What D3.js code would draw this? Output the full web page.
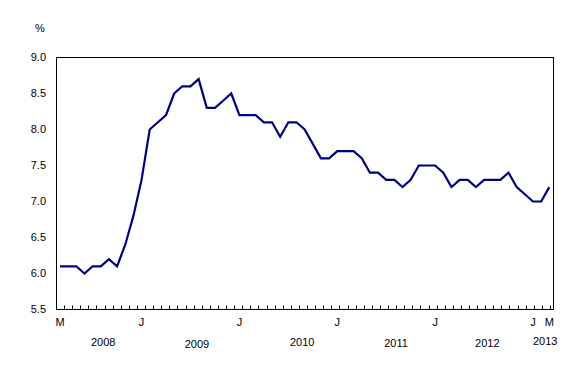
<!DOCTYPE html>
<html>
<head>
<meta charset="utf-8">
<script src="https://cdn.jsdelivr.net/npm/d3@7"></script>
<style>
html, body { margin: 0; padding: 0; background: #fff; }
svg { display: block; }
text { font-family: Arial, "Liberation Sans", sans-serif; font-size: 11px; fill: #000; }
</style>
</head>
<body>
<svg id="chart" width="588" height="380"></svg>
<script>
// ---- Data (monthly, March 2008 to March 2013) ----
const months = [
  "2008-03","2008-04","2008-05","2008-06","2008-07","2008-08","2008-09","2008-10","2008-11","2008-12",
  "2009-01","2009-02","2009-03","2009-04","2009-05","2009-06","2009-07","2009-08","2009-09","2009-10","2009-11","2009-12",
  "2010-01","2010-02","2010-03","2010-04","2010-05","2010-06","2010-07","2010-08","2010-09","2010-10","2010-11","2010-12",
  "2011-01","2011-02","2011-03","2011-04","2011-05","2011-06","2011-07","2011-08","2011-09","2011-10","2011-11","2011-12",
  "2012-01","2012-02","2012-03","2012-04","2012-05","2012-06","2012-07","2012-08","2012-09","2012-10","2012-11","2012-12",
  "2013-01","2013-02","2013-03"
];
const values = [
  6.1, 6.1, 6.1, 6.0, 6.1, 6.1, 6.2, 6.1, 6.4, 6.8,
  7.3, 8.0, 8.1, 8.2, 8.5, 8.6, 8.6, 8.7, 8.3, 8.3, 8.4, 8.5,
  8.2, 8.2, 8.2, 8.1, 8.1, 7.9, 8.1, 8.1, 8.0, 7.8, 7.6, 7.6,
  7.7, 7.7, 7.7, 7.6, 7.4, 7.4, 7.3, 7.3, 7.2, 7.3, 7.5, 7.5,
  7.5, 7.4, 7.2, 7.3, 7.3, 7.2, 7.3, 7.3, 7.3, 7.4, 7.2, 7.1,
  7.0, 7.0, 7.2
];
const yTicks = [5.5, 6.0, 6.5, 7.0, 7.5, 8.0, 8.5, 9.0];
const monthLabels = [
  { month: "2008-03", label: "M" },
  { month: "2009-01", label: "J" },
  { month: "2010-01", label: "J" },
  { month: "2011-01", label: "J" },
  { month: "2012-01", label: "J" },
  { month: "2013-01", label: "J" },
  { month: "2013-03", label: "M" }
];
const years = ["2008", "2009", "2010", "2011", "2012", "2013"];
const yUnit = "%";

// ---- Layout (not data) ----
const plot = { left: 56.5, right: 553.5, top: 57.5, bottom: 309.5 };
// fractional month index where each year label sits, and its baseline
const yearLabelIdx = [5.3, 16.8, 29.7, 41.2, 52.4, 59.5];
const yearLabelY = [345.5, 347.5, 345.5, 347.3, 347.3, 344.7];

const svg = d3.select("#chart");

const x = d3.scaleLinear().domain([0, months.length - 1]).range([60, 549.3]);
const xTick = d3.scaleLinear().domain([0, months.length - 1]).range([64, 550]);
const y = d3.scaleLinear().domain([5.5, 9.0]).range([plot.bottom, plot.top]);

// plot frame
svg.append("rect")
  .attr("x", plot.left).attr("y", plot.top)
  .attr("width", plot.right - plot.left).attr("height", plot.bottom - plot.top)
  .attr("fill", "none").attr("stroke", "#000").attr("stroke-width", 1);

// x tick marks (inside, upward)
svg.append("g").selectAll("line")
  .data(d3.range(months.length))
  .join("line")
  .attr("x1", d => Math.round(xTick(d)) + 0.5)
  .attr("x2", d => Math.round(xTick(d)) + 0.5)
  .attr("y1", plot.bottom)
  .attr("y2", plot.bottom - 4)
  .attr("stroke", "#000").attr("stroke-width", 1);

// y axis labels
svg.append("g").selectAll("text")
  .data(yTicks)
  .join("text")
  .attr("x", 46)
  .attr("y", d => y(d))
  .attr("dy", "0.35em")
  .attr("text-anchor", "end")
  .text(d => d.toFixed(1));

// unit
svg.append("text").attr("x", 40).attr("y", 32).attr("text-anchor", "middle").text(yUnit);

// month labels
svg.append("g").selectAll("text")
  .data(monthLabels)
  .join("text")
  .attr("x", d => x(months.indexOf(d.month)))
  .attr("y", 326)
  .attr("text-anchor", "middle")
  .text(d => d.label);

// year labels
svg.append("g").selectAll("text")
  .data(years)
  .join("text")
  .attr("x", (d, i) => x(yearLabelIdx[i]))
  .attr("y", (d, i) => yearLabelY[i])
  .attr("text-anchor", "middle")
  .text(d => d);

// the series line
const line = d3.line()
  .x((d, i) => x(i))
  .y(d => y(d));

svg.append("path")
  .datum(values)
  .attr("d", line)
  .attr("fill", "none")
  .attr("stroke", "#000080")
  .attr("stroke-width", 2.2)
  .attr("stroke-linejoin", "miter");
</script>
</body>
</html>
